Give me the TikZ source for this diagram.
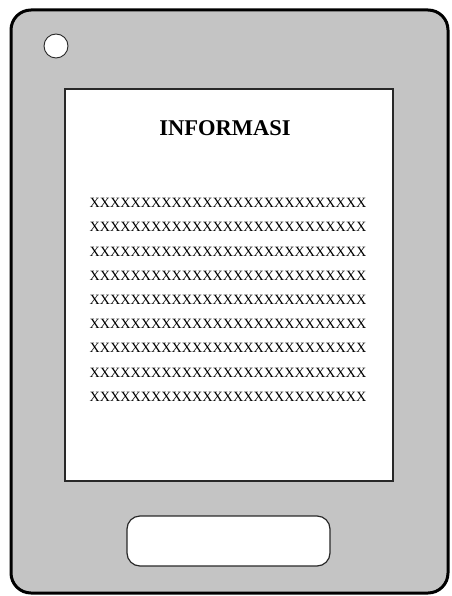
\documentclass[tikz,border=0pt]{standalone}
\usepackage{fontspec}
\setmainfont{Liberation Serif}
\definecolor{bodygray}{RGB}{196,196,196}
\definecolor{edgegray}{RGB}{40,40,40}
\begin{document}
\begin{tikzpicture}[x=1pt,y=-1pt,
  body/.style={draw=black,line width=3pt,fill=bodygray,rounded corners=20pt},
  screen/.style={draw=edgegray,line width=1.3pt,fill=white},
  homebtn/.style={draw=edgegray,line width=1.2pt,fill=white,rounded corners=13pt},
  cam/.style={draw=edgegray,line width=0.9pt,fill=white},
  title/.style={font=\fontsize{22.5}{24}\selectfont\bfseries,inner sep=0pt},
  xline/.style={font=\fontsize{14.2}{16}\selectfont,inner sep=0pt}]
\useasboundingbox (0,0) rectangle (451,596);
\draw[body] (11,10) rectangle (448,593);
\draw[screen] (65,89) rectangle (393,481);
\draw[homebtn] (127,516) rectangle (330,566);
\draw[cam] (56,46) circle (12);
\node[title] (ttl) at (225,128) {INFORMASI};
\foreach \i in {0,...,8}{
  \node[xline] (l\i) at (228,{203+24.2*\i}) {XXXXXXXXXXXXXXXXXXXXXXXXXXX};
}
\end{tikzpicture}
\end{document}
